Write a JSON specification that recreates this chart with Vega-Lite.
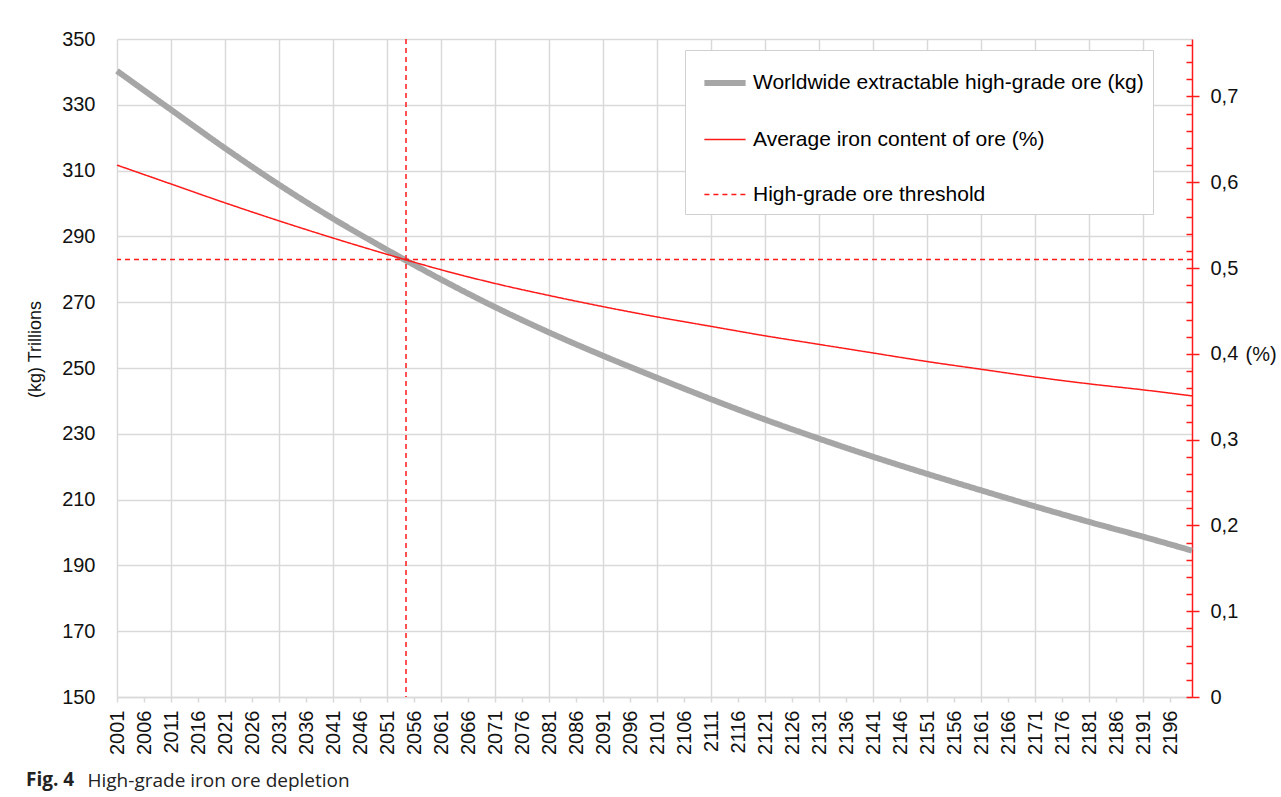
{
  "$schema": "https://vega.github.io/schema/vega-lite/v6.json",
  "width": 1075,
  "height": 658,
  "autosize": "none",
  "padding": {"left": 117, "top": 39, "right": 89, "bottom": 100},
  "background": "white",
  "title": {"text": "Fig. 4", "orient": "bottom", "anchor": "start", "frame": "group", "font": "Open Sans", "fontWeight": "bold", "fontSize": 19, "color": "#222222", "dx": -91, "offset": 14, "dy": -33},
  "datasets": {
    "ore": [
      {"year": 2001, "series": "Worldwide extractable high-grade ore (kg)", "kg": 340.3},
      {"year": 2011, "series": "Worldwide extractable high-grade ore (kg)", "kg": 328.5},
      {"year": 2021, "series": "Worldwide extractable high-grade ore (kg)", "kg": 316.8},
      {"year": 2031, "series": "Worldwide extractable high-grade ore (kg)", "kg": 305.7},
      {"year": 2041, "series": "Worldwide extractable high-grade ore (kg)", "kg": 295.4},
      {"year": 2051, "series": "Worldwide extractable high-grade ore (kg)", "kg": 285.9},
      {"year": 2061, "series": "Worldwide extractable high-grade ore (kg)", "kg": 276.9},
      {"year": 2071, "series": "Worldwide extractable high-grade ore (kg)", "kg": 268.5},
      {"year": 2081, "series": "Worldwide extractable high-grade ore (kg)", "kg": 260.8},
      {"year": 2091, "series": "Worldwide extractable high-grade ore (kg)", "kg": 253.7},
      {"year": 2101, "series": "Worldwide extractable high-grade ore (kg)", "kg": 247.0},
      {"year": 2111, "series": "Worldwide extractable high-grade ore (kg)", "kg": 240.5},
      {"year": 2121, "series": "Worldwide extractable high-grade ore (kg)", "kg": 234.3},
      {"year": 2131, "series": "Worldwide extractable high-grade ore (kg)", "kg": 228.5},
      {"year": 2141, "series": "Worldwide extractable high-grade ore (kg)", "kg": 223.0},
      {"year": 2151, "series": "Worldwide extractable high-grade ore (kg)", "kg": 217.8},
      {"year": 2161, "series": "Worldwide extractable high-grade ore (kg)", "kg": 212.8},
      {"year": 2171, "series": "Worldwide extractable high-grade ore (kg)", "kg": 207.9},
      {"year": 2181, "series": "Worldwide extractable high-grade ore (kg)", "kg": 203.2},
      {"year": 2191, "series": "Worldwide extractable high-grade ore (kg)", "kg": 198.7},
      {"year": 2200, "series": "Worldwide extractable high-grade ore (kg)", "kg": 194.5}
    ],
    "iron": [
      {"year": 2001, "series": "Average iron content of ore (%)", "pct": 0.620},
      {"year": 2011, "series": "Average iron content of ore (%)", "pct": 0.598},
      {"year": 2021, "series": "Average iron content of ore (%)", "pct": 0.576},
      {"year": 2031, "series": "Average iron content of ore (%)", "pct": 0.555},
      {"year": 2041, "series": "Average iron content of ore (%)", "pct": 0.535},
      {"year": 2051, "series": "Average iron content of ore (%)", "pct": 0.516},
      {"year": 2061, "series": "Average iron content of ore (%)", "pct": 0.498},
      {"year": 2071, "series": "Average iron content of ore (%)", "pct": 0.482},
      {"year": 2081, "series": "Average iron content of ore (%)", "pct": 0.468},
      {"year": 2091, "series": "Average iron content of ore (%)", "pct": 0.455},
      {"year": 2101, "series": "Average iron content of ore (%)", "pct": 0.443},
      {"year": 2111, "series": "Average iron content of ore (%)", "pct": 0.432},
      {"year": 2121, "series": "Average iron content of ore (%)", "pct": 0.421},
      {"year": 2131, "series": "Average iron content of ore (%)", "pct": 0.411},
      {"year": 2141, "series": "Average iron content of ore (%)", "pct": 0.401},
      {"year": 2151, "series": "Average iron content of ore (%)", "pct": 0.391},
      {"year": 2161, "series": "Average iron content of ore (%)", "pct": 0.382},
      {"year": 2171, "series": "Average iron content of ore (%)", "pct": 0.373},
      {"year": 2181, "series": "Average iron content of ore (%)", "pct": 0.365},
      {"year": 2191, "series": "Average iron content of ore (%)", "pct": 0.358},
      {"year": 2200, "series": "Average iron content of ore (%)", "pct": 0.351}
    ],
    "threshold": [
      {"year": 2054.5, "series": "High-grade ore threshold", "pct": 0.51}
    ]
  },
  "layer": [
    {
      "data": {"name": "ore"},
      "mark": {"type": "line", "interpolate": "monotone", "strokeCap": "butt"},
      "encoding": {
        "x": {
          "field": "year", "type": "quantitative",
          "scale": {"domain": [2001, 2200], "nice": false, "zero": false},
          "axis": {
            "values": [2001,2006,2011,2016,2021,2026,2031,2036,2041,2046,2051,2056,2061,2066,2071,2076,2081,2086,2091,2096,2101,2106,2111,2116,2121,2126,2131,2136,2141,2146,2151,2156,2161,2166,2171,2176,2181,2186,2191,2196],
            "format": "d", "labelAngle": 270, "labelAlign": "right", "labelBaseline": "middle", "labelFontSize": 20, "labelPadding": 8,
            "labelOverlap": false, "labelFlush": false, "labelBound": false,
            "grid": true, "gridColor": "#d9d9d9", "gridWidth": 1.5,
            "gridOpacity": {"condition": {"test": "(datum.value - 2001) % 10 == 0", "value": 1}, "value": 0},
            "domainColor": "#d9d9d9", "domainWidth": 1.5, "tickColor": "#d9d9d9", "tickWidth": 1.5, "tickSize": 5,
            "title": "High-grade iron ore depletion", "titleFont": "Open Sans", "titleFontWeight": "normal", "titleFontSize": 19, "titleColor": "#222222",
            "titleAngle": 0, "titleAlign": "left", "titleBaseline": "middle", "titleX": -30, "titleY": 83
          }
        },
        "y": {
          "field": "kg", "type": "quantitative",
          "scale": {"domain": [150, 350], "nice": false, "zero": false},
          "axis": {
            "orient": "left",
            "values": [150,170,190,210,230,250,270,290,310,330,350],
            "domain": false, "ticks": false, "grid": true, "gridColor": "#d9d9d9", "gridWidth": 1.5,
            "labelPadding": 22, "labelFontSize": 20,
            "title": "(kg) Trillions", "titleFontSize": 18, "titleFontWeight": "normal", "titleAngle": 270, "titleAlign": "center", "titleBaseline": "middle", "titleX": -82, "titleY": 310
          }
        },
        "color": {
          "field": "series", "type": "nominal",
          "scale": {"domain": ["Worldwide extractable high-grade ore (kg)", "Average iron content of ore (%)", "High-grade ore threshold"], "range": ["#a6a6a6", "#ff1a1a", "#ff1a1a"]},
          "legend": {"orient": "none", "legendX": 568, "legendY": 11, "title": null, "padding": 9, "symbolOffset": 7, "fillColor": "white", "strokeColor": "#d0d0d0", "labelFontSize": 21, "labelColor": "#000000", "rowPadding": 23, "symbolSize": 1700, "symbolType": "stroke", "labelOffset": 4, "labelLimit": 600}
        },
        "strokeWidth": {
          "field": "series", "type": "nominal",
          "scale": {"type": "ordinal", "domain": ["Worldwide extractable high-grade ore (kg)", "Average iron content of ore (%)", "High-grade ore threshold"], "range": [6, 1.5, 1.5]},
          "legend": {"orient": "none", "legendX": 568, "legendY": 11, "title": null, "padding": 9, "symbolOffset": 7, "fillColor": "white", "strokeColor": "#d0d0d0", "labelFontSize": 21, "labelColor": "#000000", "rowPadding": 23, "symbolSize": 1700, "symbolType": "stroke", "labelOffset": 4, "labelLimit": 600}
        },
        "strokeDash": {
          "field": "series", "type": "nominal",
          "scale": {"domain": ["Worldwide extractable high-grade ore (kg)", "Average iron content of ore (%)", "High-grade ore threshold"], "range": [[1, 0], [1, 0], [5, 4]]},
          "legend": {"orient": "none", "legendX": 568, "legendY": 11, "title": null, "padding": 9, "symbolOffset": 7, "fillColor": "white", "strokeColor": "#d0d0d0", "labelFontSize": 21, "labelColor": "#000000", "rowPadding": 23, "symbolSize": 1700, "symbolType": "stroke", "labelOffset": 4, "labelLimit": 600}
        }
      }
    },
    {
      "layer": [
        {
          "data": {"name": "iron"},
          "mark": {"type": "line", "interpolate": "monotone"},
          "encoding": {
            "x": {
              "field": "year", "type": "quantitative",
              "scale": {"domain": [2001, 2200], "nice": false, "zero": false},
              "axis": {
                "values": [2001,2006,2011,2016,2021,2026,2031,2036,2041,2046,2051,2056,2061,2066,2071,2076,2081,2086,2091,2096,2101,2106,2111,2116,2121,2126,2131,2136,2141,2146,2151,2156,2161,2166,2171,2176,2181,2186,2191,2196],
                "format": "d", "labelAngle": 270, "labelAlign": "right", "labelBaseline": "middle", "labelFontSize": 20, "labelPadding": 8,
                "labelOverlap": false, "labelFlush": false, "labelBound": false,
                "grid": true, "gridColor": "#d9d9d9", "gridWidth": 1.5,
                "gridOpacity": {"condition": {"test": "(datum.value - 2001) % 10 == 0", "value": 1}, "value": 0},
                "domainColor": "#d9d9d9", "domainWidth": 1.5, "tickColor": "#d9d9d9", "tickWidth": 1.5, "tickSize": 5,
                "title": "High-grade iron ore depletion", "titleFont": "Open Sans", "titleFontWeight": "normal", "titleFontSize": 19, "titleColor": "#222222",
                "titleAngle": 0, "titleAlign": "left", "titleBaseline": "middle", "titleX": -30, "titleY": 83
              }
            },
            "y": {
              "field": "pct", "type": "quantitative",
              "scale": {"domain": [0, 0.767], "nice": false, "zero": true},
              "axis": {
                "orient": "right",
                "values": [0, 0.1, 0.2, 0.3, 0.4, 0.5, 0.6, 0.7],
                "labelExpr": "datum.value == 0 ? '0' : replace(format(datum.value, '.1f'), '.', ',')",
                "tickSize": 7, "tickColor": "#ff1a1a", "tickWidth": 1.5, "domainColor": "#ff1a1a", "domainWidth": 1.5,
                "grid": false, "labelFontSize": 20, "labelPadding": 11, "labelOverlap": false, "labelFlush": false,
                "title": "(%)", "titleFontSize": 20, "titleFontWeight": "normal", "titleAngle": 0, "titleAlign": "left", "titleBaseline": "middle", "titleX": 53, "titleY": 315
              }
            }
          }
        },
        {
          "data": {"name": "threshold"},
          "mark": {"type": "rule"},
          "encoding": {
            "y": {
              "field": "pct", "type": "quantitative",
              "scale": {"domain": [0, 0.767], "nice": false, "zero": true},
              "axis": {
                "orient": "right",
                "values": [0,0.02,0.04,0.06,0.08,0.1,0.12,0.14,0.16,0.18,0.2,0.22,0.24,0.26,0.28,0.3,0.32,0.34,0.36,0.38,0.4,0.42,0.44,0.46,0.48,0.5,0.52,0.54,0.56,0.58,0.6,0.62,0.64,0.66,0.68,0.7,0.72,0.74,0.76],
                "offset": -6, "tickSize": 6, "tickColor": "#ff1a1a", "tickWidth": 1.5,
                "domain": false, "labels": false, "grid": false, "title": null
              }
            }
          }
        }
      ],
      "resolve": {"axis": {"y": "independent"}},
      "encoding": {
        "color": {"field": "series", "type": "nominal", "scale": {"domain": ["Worldwide extractable high-grade ore (kg)", "Average iron content of ore (%)", "High-grade ore threshold"], "range": ["#a6a6a6", "#ff1a1a", "#ff1a1a"]}, "legend": {"orient": "none", "legendX": 568, "legendY": 11, "title": null, "padding": 9, "symbolOffset": 7, "fillColor": "white", "strokeColor": "#d0d0d0", "labelFontSize": 21, "labelColor": "#000000", "rowPadding": 23, "symbolSize": 1700, "symbolType": "stroke", "labelOffset": 4, "labelLimit": 600}},
        "strokeWidth": {"field": "series", "type": "nominal", "scale": {"type": "ordinal", "domain": ["Worldwide extractable high-grade ore (kg)", "Average iron content of ore (%)", "High-grade ore threshold"], "range": [6, 1.5, 1.5]}, "legend": {"orient": "none", "legendX": 568, "legendY": 11, "title": null, "padding": 9, "symbolOffset": 7, "fillColor": "white", "strokeColor": "#d0d0d0", "labelFontSize": 21, "labelColor": "#000000", "rowPadding": 23, "symbolSize": 1700, "symbolType": "stroke", "labelOffset": 4, "labelLimit": 600}},
        "strokeDash": {"field": "series", "type": "nominal", "scale": {"domain": ["Worldwide extractable high-grade ore (kg)", "Average iron content of ore (%)", "High-grade ore threshold"], "range": [[1, 0], [1, 0], [5, 4]]}, "legend": {"orient": "none", "legendX": 568, "legendY": 11, "title": null, "padding": 9, "symbolOffset": 7, "fillColor": "white", "strokeColor": "#d0d0d0", "labelFontSize": 21, "labelColor": "#000000", "rowPadding": 23, "symbolSize": 1700, "symbolType": "stroke", "labelOffset": 4, "labelLimit": 600}}
      }
    },
    {
      "data": {"name": "threshold"},
      "mark": {"type": "rule"},
      "encoding": {
        "x": {
          "field": "year", "type": "quantitative",
          "scale": {"domain": [2001, 2200], "nice": false, "zero": false},
          "axis": {
            "values": [2001,2006,2011,2016,2021,2026,2031,2036,2041,2046,2051,2056,2061,2066,2071,2076,2081,2086,2091,2096,2101,2106,2111,2116,2121,2126,2131,2136,2141,2146,2151,2156,2161,2166,2171,2176,2181,2186,2191,2196],
            "format": "d", "labelAngle": 270, "labelAlign": "right", "labelBaseline": "middle", "labelFontSize": 20, "labelPadding": 8,
            "labelOverlap": false, "labelFlush": false, "labelBound": false,
            "grid": true, "gridColor": "#d9d9d9", "gridWidth": 1.5,
            "gridOpacity": {"condition": {"test": "(datum.value - 2001) % 10 == 0", "value": 1}, "value": 0},
            "domainColor": "#d9d9d9", "domainWidth": 1.5, "tickColor": "#d9d9d9", "tickWidth": 1.5, "tickSize": 5,
            "title": "High-grade iron ore depletion", "titleFont": "Open Sans", "titleFontWeight": "normal", "titleFontSize": 19, "titleColor": "#222222",
            "titleAngle": 0, "titleAlign": "left", "titleBaseline": "middle", "titleX": -30, "titleY": 83
          }
        },
        "color": {"field": "series", "type": "nominal", "scale": {"domain": ["Worldwide extractable high-grade ore (kg)", "Average iron content of ore (%)", "High-grade ore threshold"], "range": ["#a6a6a6", "#ff1a1a", "#ff1a1a"]}, "legend": {"orient": "none", "legendX": 568, "legendY": 11, "title": null, "padding": 9, "symbolOffset": 7, "fillColor": "white", "strokeColor": "#d0d0d0", "labelFontSize": 21, "labelColor": "#000000", "rowPadding": 23, "symbolSize": 1700, "symbolType": "stroke", "labelOffset": 4, "labelLimit": 600}},
        "strokeWidth": {"field": "series", "type": "nominal", "scale": {"type": "ordinal", "domain": ["Worldwide extractable high-grade ore (kg)", "Average iron content of ore (%)", "High-grade ore threshold"], "range": [6, 1.5, 1.5]}, "legend": {"orient": "none", "legendX": 568, "legendY": 11, "title": null, "padding": 9, "symbolOffset": 7, "fillColor": "white", "strokeColor": "#d0d0d0", "labelFontSize": 21, "labelColor": "#000000", "rowPadding": 23, "symbolSize": 1700, "symbolType": "stroke", "labelOffset": 4, "labelLimit": 600}},
        "strokeDash": {"field": "series", "type": "nominal", "scale": {"domain": ["Worldwide extractable high-grade ore (kg)", "Average iron content of ore (%)", "High-grade ore threshold"], "range": [[1, 0], [1, 0], [5, 4]]}, "legend": {"orient": "none", "legendX": 568, "legendY": 11, "title": null, "padding": 9, "symbolOffset": 7, "fillColor": "white", "strokeColor": "#d0d0d0", "labelFontSize": 21, "labelColor": "#000000", "rowPadding": 23, "symbolSize": 1700, "symbolType": "stroke", "labelOffset": 4, "labelLimit": 600}}
      }
    }
  ],
  "resolve": {"scale": {"y": "independent"}},
  "config": {
    "font": "Liberation Sans",
    "view": {"stroke": null},
    "axis": {"labelColor": "#111111", "titleColor": "#111111", "labelFont": "Liberation Sans", "titleFont": "Liberation Sans"},
    "legend": {"labelFont": "Liberation Sans"}
  }
}
